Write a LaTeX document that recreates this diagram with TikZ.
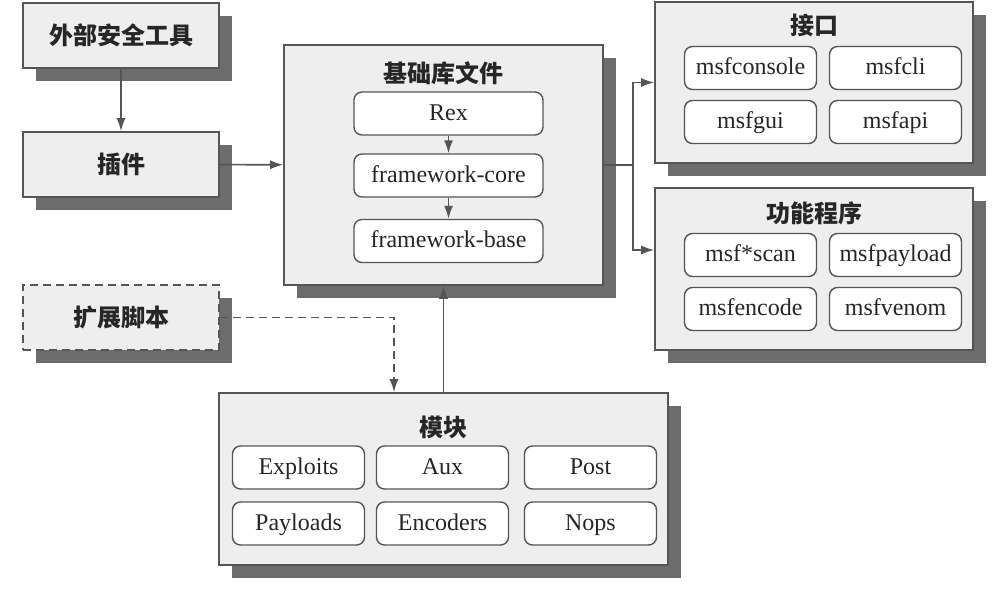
\documentclass[tikz,border=0pt]{standalone}
\usepackage{fontspec}
\setmainfont{Liberation Serif}
\newfontfamily\cjk{Noto Sans CJK SC}
\usetikzlibrary{shadows,arrows.meta}
\definecolor{boxgray}{HTML}{EEEEEE}
\definecolor{linegray}{HTML}{555555}
\definecolor{shadegray}{HTML}{6C6C6C}
\tikzstyle{boxshadow} = [general shadow={fill=shadegray, shadow xshift=13pt, shadow yshift=-13pt}]
\tikzstyle{group} = [draw=linegray, fill=boxgray, line width=1.6pt, boxshadow]
\tikzstyle{tool} = [group, minimum width=196pt, minimum height=65pt, font=\fontsize{24}{28}\selectfont\cjk\bfseries]
\tikzstyle{title} = [font=\fontsize{24}{28}\selectfont\cjk\bfseries]
\tikzstyle{item} = [draw=linegray, fill=white, rounded corners=8pt, line width=1.4pt, minimum width=132pt, minimum height=43pt, text height=17pt, text depth=4pt, font=\fontsize{24}{28}\selectfont]
\tikzstyle{link} = [->, draw=linegray, line width=1.6pt]
\tikzstyle{dashline} = [dash pattern=on 8pt off 5pt]

\begin{document}
\begin{tikzpicture}[x=1pt, y=-1pt, >={Latex[length=13pt,width=9pt]}, text=black!85]
        \useasboundingbox (0,0) rectangle (1007,590);
        \node[tool](ext) at (121,35.5){外部安全工具};
        \node[tool](plugin) at (121,164.5){插件};
        \node[tool,dashline](script) at (121,317.5){扩展脚本};
        \node[group,minimum width=319pt,minimum height=240pt](base) at (443.5,165){};
        \node[title](baseT) at (443.5,73){基础库文件};
        \node[item,minimum width=189pt](rex) at (448.5,113.5){Rex};
        \node[item,minimum width=189pt](core) at (448.5,175.5){framework-core};
        \node[item,minimum width=189pt](fbase) at (448.5,241){framework-base};
        \node[group,minimum width=318pt,minimum height=161pt](iface) at (814,82.5){};
        \node[title](ifaceT) at (814,25){接口};
        \node[item](console) at (750.5,68){msfconsole};
        \node[item](cli) at (895.5,68){msfcli};
        \node[item](gui) at (750.5,122){msfgui};
        \node[item](api) at (895.5,122){msfapi};
        \node[group,minimum width=318pt,minimum height=162pt](tools) at (814,269){};
        \node[title](toolsT) at (814,213){功能程序};
        \node[item](scan) at (750.5,255){msf*scan};
        \node[item](payload) at (895.5,255){msfpayload};
        \node[item](encode) at (750.5,309){msfencode};
        \node[item](venom) at (895.5,309){msfvenom};
        \node[group,minimum width=449pt,minimum height=172pt](mods) at (443.5,479){};
        \node[title](modsT) at (443.5,427){模块};
        \node[item](exploits) at (298.5,467.5){Exploits};
        \node[item](aux) at (442.5,467.5){Aux};
        \node[item](post) at (590.5,467.5){Post};
        \node[item](payloads) at (298.5,523.5){Payloads};
        \node[item](encoders) at (442.5,523.5){Encoders};
        \node[item](nops) at (590.5,523.5){Nops};
        \coordinate(split) at (633,165);
        \draw[link](ext)--(plugin);
        \draw[link](plugin)--(base);
        \draw[link](rex)--(core);
        \draw[link](core)--(fbase);
        \draw[draw=linegray,line width=1.6pt](base.east)--(split);
        \draw[link](split)|-(iface.west);
        \draw[link](split)|-([yshift=19pt]tools.west);
        \draw[link](mods)--(base);
        \draw[link,dashline](script.east)-|([xshift=-49.5pt]mods.north);
      \end{tikzpicture}
\end{document}
